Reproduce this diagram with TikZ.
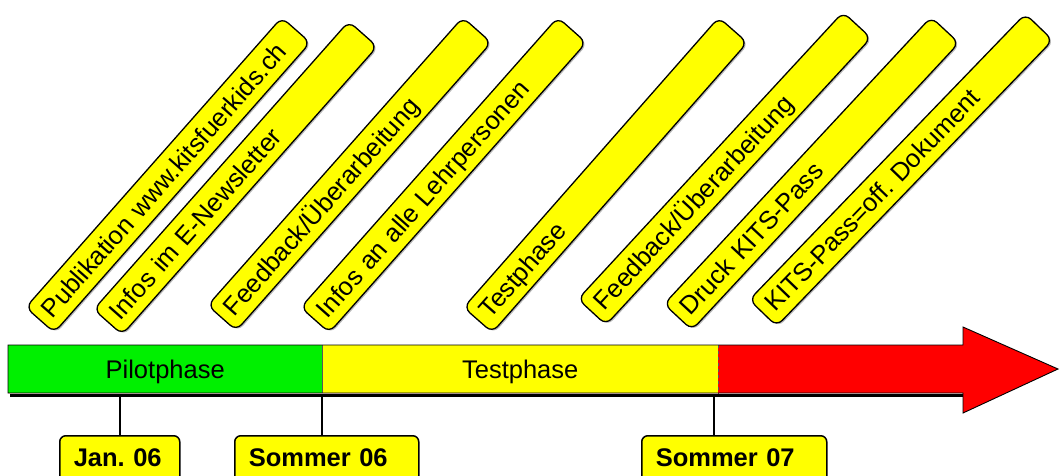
\documentclass[tikz,border=0pt]{standalone}
\usepackage{fontspec}
\setmainfont{Liberation Sans}
\usetikzlibrary{shadows}
\frenchspacing
\definecolor{tagyellow}{RGB}{255,255,0}
\definecolor{phgreen}{RGB}{0,240,0}
\definecolor{phred}{RGB}{255,0,0}
\begin{document}
\begin{tikzpicture}[x=1pt,y=-1pt,
  tag/.style={draw=black, line width=1.3pt, fill=tagyellow, rounded corners=8pt,
    minimum height=38pt, inner xsep=9pt, inner ysep=0pt, align=left,
    general shadow={fill=gray!55, shadow xshift=1.6pt, shadow yshift=-1.2pt},
    font=\fontsize{25.5}{28}\selectfont, text height=18.5pt, text depth=0pt},
  phase/.style={inner sep=0pt, minimum height=48pt, anchor=north west,
    font=\fontsize{25.5}{28}\selectfont, text height=18.5pt, text depth=0pt},
  datebox/.style={draw=black, line width=1.5pt, fill=tagyellow, rounded corners=6pt,
    anchor=north west, inner xsep=14pt, inner ysep=0pt, align=left,
    text height=31pt, text depth=30pt, font=\fontsize{25.5}{28}\selectfont\bfseries},
  tick/.style={draw=black, line width=1.2pt}
]
\useasboundingbox (0,0) rectangle (1060,475);
\clip (0,0) rectangle (1060,475);

% rotated tags
\node[tag, rotate=48.56, text width=368.8pt] (p1) at (168,175) {Publikation www.kitsfuerkids.ch};
\node[tag, rotate=48.48, text width=366.7pt] (p2) at (235.5,178) {Infos im E-Newsletter};
\node[tag, rotate=48.48, text width=366.7pt] (p3) at (349.5,174) {Feedback/Überarbeitung};
\node[tag, rotate=48.46, text width=369.5pt] (p4) at (443.5,175) {Infos an alle Lehrpersonen};
\node[tag, rotate=48.67, text width=368.2pt] (p5) at (605.5,175) {Testphase};
\node[tag, rotate=47.28, text width=372.6pt] (p6) at (724.5,168.5) {Feedback/Überarbeitung};
\node[tag, rotate=47.07, text width=374.0pt] (p7) at (811.5,173.5) {Druck KITS-Pass};
\node[tag, rotate=46.02, text width=379.5pt] (p8) at (901,170) {KITS-Pass=off. Dokument};

% main arrow
\fill[phred] (8,345) -- (963,345) -- (963,327) -- (1058,369) -- (963,413) -- (963,393) -- (8,393) -- cycle;
\node[phase, fill=phgreen, minimum width=314pt] (ph1) at (8,345) {Pilotphase};
\node[phase, fill=tagyellow, minimum width=396pt] (ph2) at (322,345) {Testphase};
\draw[gray!70!black, line width=0.6pt] (ph1.north east) -- (ph1.south east);
\draw[gray!70!black, line width=0.6pt, dashed] (ph2.north east) -- (ph2.south east);
\draw[black, line width=0.9pt, line join=miter] (8,345) -- (963,345) -- (963,327) -- (1058,369) -- (963,413) -- (963,393) -- (8,393) -- cycle;
\draw[black, line width=3pt] (10,395) -- (963,395);

% dates
\node[datebox, text width=92pt] (d1) at (59,435) {\mbox{Jan. 06}};
\node[datebox, text width=156pt] (d2) at (234,435) {\mbox{Sommer 06}};
\node[datebox, text width=157pt] (d3) at (641,435) {\mbox{Sommer 07}};

\coordinate (t1) at (120,397);
\coordinate (t2) at (322,397);
\coordinate (t3) at (714,397);
\draw[tick] (t1) -- (t1 |- d1.north);
\draw[tick] (t2) -- (t2 |- d2.north);
\draw[tick] (t3) -- (t3 |- d3.north);
\end{tikzpicture}
\end{document}
